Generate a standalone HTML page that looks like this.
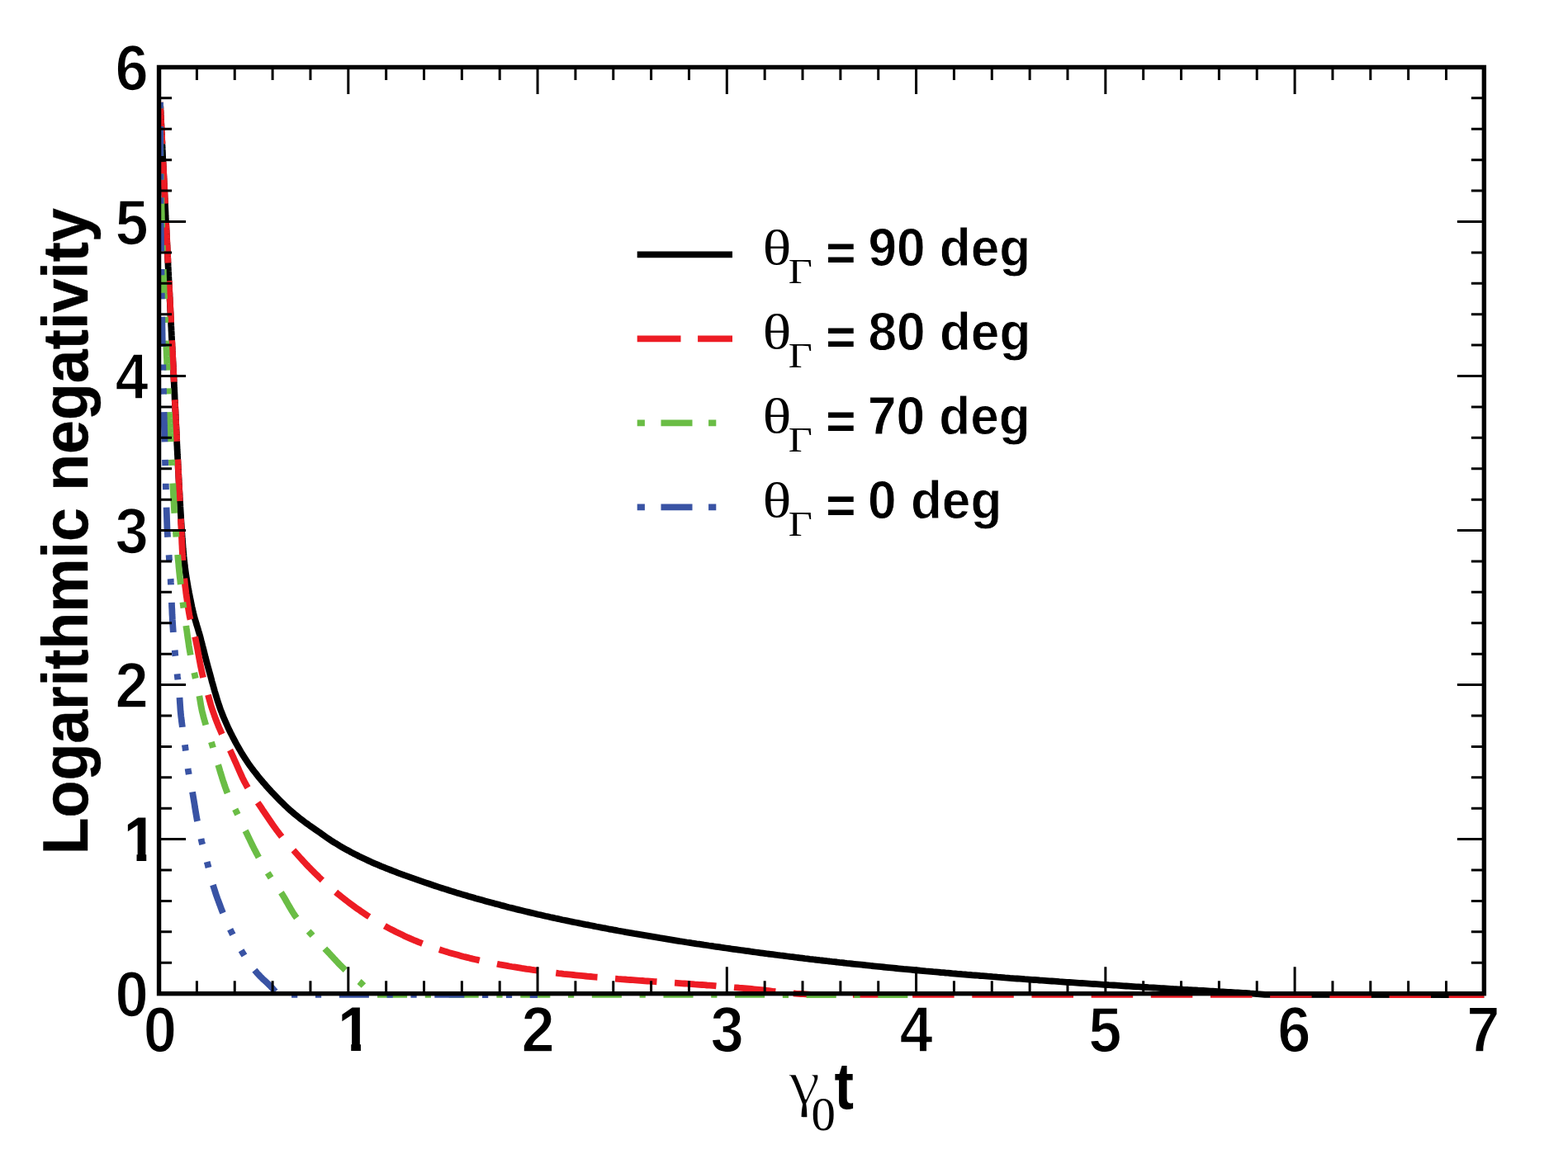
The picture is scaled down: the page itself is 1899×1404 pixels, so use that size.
<!DOCTYPE html>
<html lang="en"><head><meta charset="utf-8"><title>Logarithmic negativity</title>
<style>html,body{margin:0;padding:0;background:#fff;overflow:hidden}svg{display:block}text{font-family:"Liberation Sans",sans-serif;font-weight:bold;fill:#000}.sym{font-family:"Liberation Serif",serif;font-weight:normal}</style></head><body>
<svg width="1899" height="1404" viewBox="0 0 1899 1404">
<rect width="1899" height="1404" fill="#fff"/>
<g>
<g id="curves">
<path d="M194.0,124.0 L194.1,127.0 L194.3,130.0 L194.4,133.0 L194.6,136.0 L194.7,139.0 L194.9,142.0 L195.0,145.0 L195.1,148.0 L195.3,151.0 L195.4,154.0 L195.6,157.0 L195.7,160.0 L195.9,163.0 L196.0,166.0 L196.1,169.0 L196.3,172.0 L196.4,175.0 L196.6,178.0 L196.7,181.0 L196.9,184.1 L197.0,187.1 L197.1,190.1 L197.3,193.1 L197.4,196.1 L197.6,199.1 L197.7,202.1 L197.9,205.1 L198.0,208.1 L198.2,211.1 L198.3,214.1 L198.5,217.1 L198.6,220.1 L198.7,223.1 L198.9,226.1 L199.0,229.1 L199.2,232.1 L199.3,235.1 L199.5,238.1 L199.6,241.1 L199.8,244.1 L199.9,247.1 L200.1,250.1 L200.2,253.1 L200.4,256.1 L200.5,259.1 L200.6,262.1 L200.8,265.1 L200.9,268.1 L201.1,271.1 L201.2,274.1 L201.4,277.1 L201.5,280.1 L201.7,283.1 L201.8,286.1 L202.0,289.1 L202.1,292.1 L202.3,295.1 L202.4,298.1 L202.6,301.1 L202.7,304.1 L202.9,307.1 L203.0,310.1 L203.2,313.2 L203.3,316.2 L203.5,319.2 L203.6,322.2 L203.8,325.2 L203.9,328.2 L204.1,331.2 L204.2,334.2 L204.4,337.2 L204.5,340.2 L204.7,343.2 L204.8,346.2 L205.0,349.2 L205.1,352.2 L205.3,355.2 L205.4,358.2 L205.6,361.2 L205.7,364.2 L205.9,367.2 L206.0,370.2 L206.2,373.2 L206.3,376.2 L206.5,379.2 L206.6,382.2 L206.8,385.2 L206.9,388.2 L207.1,391.2 L207.2,394.2 L207.4,397.2 L207.5,400.2 L207.7,403.2 L207.8,406.2 L208.0,409.2 L208.1,412.2 L208.3,415.2 L208.4,418.2 L208.6,421.2 L208.7,424.2 L208.9,427.2 L209.0,430.2 L209.2,433.2 L209.3,436.2 L209.5,439.2 L209.7,442.2 L209.8,445.2 L210.0,448.2 L210.1,451.2 L210.3,454.2 L210.4,457.3 L210.6,460.3 L210.7,463.3 L210.9,466.3 L211.0,469.3 L211.2,472.3 L211.3,475.3 L211.5,478.3 L211.6,481.3 L211.7,484.3 L211.9,487.3 L212.0,490.3 L212.2,493.3 L212.3,496.3 L212.5,499.3 L212.6,502.3 L212.8,505.3 L212.9,508.3 L213.0,511.3 L213.2,514.3 L213.3,517.3 L213.5,520.3 L213.6,523.3 L213.8,526.3 L213.9,529.3 L214.1,532.3 L214.2,535.3 L214.3,538.3 L214.5,541.3 L214.6,544.3 L214.8,547.3 L214.9,550.3 L215.1,553.3 L215.2,556.3 L215.4,559.3 L215.5,562.3 L215.7,565.3 L215.8,568.3 L216.0,571.4 L216.2,574.4 L216.3,577.4 L216.5,580.4 L216.6,583.4 L216.8,586.4 L217.0,589.4 L217.1,592.4 L217.3,595.4 L217.5,598.4 L217.6,601.4 L217.8,604.4 L218.0,607.4 L218.2,610.4 L218.3,613.4 L218.5,616.4 L218.7,619.4 L218.9,622.4 L219.1,625.4 L219.2,628.4 L219.4,631.4 L219.6,634.4 L219.8,637.4 L220.0,640.4 L220.2,643.4 L220.4,646.4 L220.6,649.4 L220.8,652.4 L221.1,655.4 L221.3,658.4 L221.5,661.4 L221.7,664.4 L222.0,667.4 L222.3,670.4 L222.5,673.3 L222.8,676.3 L223.1,679.3 L223.5,682.3 L223.8,685.3 L224.2,688.3 L224.6,691.2 L225.0,694.2 L225.4,697.2 L225.9,700.2 L226.4,703.1 L226.9,706.1 L227.4,709.1 L227.9,712.0 L228.5,715.0 L229.0,718.0 L229.6,720.9 L230.2,723.9 L230.8,726.8 L231.4,729.8 L232.0,732.7 L232.6,735.6 L233.3,738.6 L233.9,741.5 L234.6,744.4 L235.4,747.3 L236.2,750.2 L237.1,753.1 L237.9,756.0 L238.8,758.9 L239.7,761.7 L240.5,764.6 L241.4,767.5 L242.2,770.4 L243.0,773.3 L243.7,776.2 L244.5,779.1 L245.2,782.0 L246.0,785.0 L246.7,787.9 L247.5,790.8 L248.2,793.7 L248.9,796.6 L249.7,799.5 L250.4,802.4 L251.2,805.3 L252.0,808.2 L252.8,811.1 L253.6,814.0 L254.4,816.9 L255.2,819.8 L256.0,822.7 L256.7,825.7 L257.6,828.6 L258.4,831.5 L259.2,834.4 L260.0,837.3 L260.9,840.2 L261.7,843.0 L262.6,845.9 L263.5,848.8 L264.4,851.6 L265.4,854.5 L266.3,857.3 L267.3,860.1 L268.4,862.9 L269.5,865.7 L270.6,868.5 L271.8,871.3 L273.0,874.0 L274.2,876.8 L275.4,879.5 L276.7,882.3 L278.0,885.0 L279.3,887.7 L280.7,890.4 L282.0,893.1 L283.4,895.7 L284.8,898.4 L286.2,901.0 L287.7,903.7 L289.2,906.3 L290.7,908.9 L292.2,911.5 L293.8,914.1 L295.4,916.6 L297.0,919.1 L298.7,921.7 L300.3,924.1 L302.0,926.6 L303.8,929.0 L305.6,931.5 L307.4,933.8 L309.3,936.2 L311.1,938.6 L313.0,940.9 L314.9,943.3 L316.9,945.6 L318.8,947.9 L320.8,950.1 L322.7,952.4 L324.7,954.6 L326.8,956.9 L328.8,959.1 L330.9,961.3 L333.0,963.4 L335.0,965.6 L337.1,967.7 L339.3,969.9 L341.4,972.0 L343.5,974.1 L345.7,976.2 L347.9,978.3 L350.1,980.3 L352.3,982.3 L354.6,984.2 L356.9,986.2 L359.2,988.1 L361.6,990.0 L363.9,991.9 L366.3,993.7 L368.7,995.5 L371.1,997.3 L373.6,999.0 L376.0,1000.8 L378.5,1002.5 L381.0,1004.2 L383.5,1005.9 L385.9,1007.6 L388.4,1009.3 L390.8,1011.1 L393.3,1012.9 L395.7,1014.6 L398.2,1016.3 L400.7,1018.0 L403.2,1019.6 L405.8,1021.2 L408.4,1022.7 L410.9,1024.3 L413.5,1025.8 L416.1,1027.3 L418.8,1028.8 L421.4,1030.2 L424.0,1031.7 L426.7,1033.1 L429.3,1034.5 L432.0,1035.8 L434.7,1037.2 L437.4,1038.5 L440.1,1039.8 L442.8,1041.1 L445.6,1042.4 L448.3,1043.6 L451.0,1044.9 L453.8,1046.1 L456.5,1047.2 L459.3,1048.4 L462.1,1049.6 L464.9,1050.7 L467.7,1051.8 L470.5,1052.9 L473.3,1054.0 L476.1,1055.1 L478.9,1056.2 L481.7,1057.3 L484.5,1058.3 L487.3,1059.3 L490.1,1060.4 L493.0,1061.4 L495.8,1062.4 L498.6,1063.4 L501.5,1064.4 L504.3,1065.4 L507.1,1066.4 L510.0,1067.4 L512.8,1068.4 L515.7,1069.4 L518.5,1070.3 L521.4,1071.3 L524.2,1072.2 L527.1,1073.2 L529.9,1074.1 L532.8,1075.1 L535.6,1076.0 L538.5,1076.9 L541.4,1077.8 L544.2,1078.7 L547.1,1079.6 L550.0,1080.5 L552.8,1081.4 L555.7,1082.2 L558.6,1083.1 L561.5,1084.0 L564.4,1084.8 L567.3,1085.7 L570.1,1086.5 L573.0,1087.3 L575.9,1088.2 L578.8,1089.0 L581.7,1089.8 L584.6,1090.6 L587.5,1091.4 L590.4,1092.2 L593.3,1093.0 L596.2,1093.8 L599.1,1094.6 L602.0,1095.3 L604.9,1096.1 L607.8,1096.9 L610.7,1097.6 L613.6,1098.4 L616.5,1099.2 L619.5,1099.9 L622.4,1100.6 L625.3,1101.4 L628.2,1102.1 L631.1,1102.8 L634.0,1103.5 L637.0,1104.2 L639.9,1104.9 L642.8,1105.6 L645.7,1106.3 L648.7,1107.0 L651.6,1107.7 L654.5,1108.3 L657.4,1109.0 L660.4,1109.7 L663.3,1110.3 L666.2,1111.0 L669.2,1111.6 L672.1,1112.3 L675.1,1112.9 L678.0,1113.5 L680.9,1114.2 L683.9,1114.8 L686.8,1115.4 L689.8,1116.0 L692.7,1116.6 L695.7,1117.2 L698.6,1117.8 L701.5,1118.4 L704.5,1119.0 L707.4,1119.6 L710.4,1120.2 L713.3,1120.7 L716.3,1121.3 L719.2,1121.9 L722.2,1122.5 L725.1,1123.0 L728.1,1123.6 L731.1,1124.2 L734.0,1124.7 L737.0,1125.3 L739.9,1125.8 L742.9,1126.4 L745.8,1126.9 L748.8,1127.5 L751.7,1128.0 L754.7,1128.5 L757.7,1129.1 L760.6,1129.6 L763.6,1130.1 L766.5,1130.6 L769.5,1131.2 L772.5,1131.7 L775.4,1132.2 L778.4,1132.7 L781.3,1133.2 L784.3,1133.7 L787.3,1134.2 L790.2,1134.7 L793.2,1135.2 L796.2,1135.7 L799.1,1136.2 L802.1,1136.6 L805.1,1137.1 L808.0,1137.6 L811.0,1138.1 L814.0,1138.6 L816.9,1139.1 L819.9,1139.6 L822.9,1140.1 L825.8,1140.5 L828.8,1141.0 L831.8,1141.5 L834.7,1141.9 L837.7,1142.4 L840.7,1142.8 L843.7,1143.3 L846.6,1143.7 L849.6,1144.1 L852.6,1144.6 L855.6,1145.0 L858.5,1145.5 L861.5,1145.9 L864.5,1146.4 L867.4,1146.8 L870.4,1147.2 L873.4,1147.7 L876.4,1148.1 L879.3,1148.5 L882.3,1148.9 L885.3,1149.4 L888.3,1149.8 L891.3,1150.2 L894.2,1150.6 L897.2,1151.0 L900.2,1151.4 L903.2,1151.8 L906.1,1152.2 L909.1,1152.7 L912.1,1153.1 L915.1,1153.5 L918.1,1153.9 L921.0,1154.3 L924.0,1154.7 L927.0,1155.1 L930.0,1155.5 L933.0,1155.8 L935.9,1156.2 L938.9,1156.6 L941.9,1157.0 L944.9,1157.4 L947.9,1157.7 L950.8,1158.1 L953.8,1158.5 L956.8,1158.9 L959.8,1159.2 L962.8,1159.6 L965.8,1160.0 L968.7,1160.3 L971.7,1160.7 L974.7,1161.1 L977.7,1161.4 L980.7,1161.8 L983.7,1162.1 L986.7,1162.5 L989.6,1162.8 L992.6,1163.2 L995.6,1163.5 L998.6,1163.8 L1001.6,1164.2 L1004.6,1164.5 L1007.6,1164.9 L1010.5,1165.2 L1013.5,1165.5 L1016.5,1165.9 L1019.5,1166.2 L1022.5,1166.5 L1025.5,1166.9 L1028.5,1167.2 L1031.5,1167.5 L1034.5,1167.8 L1037.4,1168.1 L1040.4,1168.4 L1043.4,1168.7 L1046.4,1169.0 L1049.4,1169.3 L1052.4,1169.6 L1055.4,1170.0 L1058.4,1170.3 L1061.4,1170.6 L1064.3,1170.9 L1067.3,1171.2 L1070.3,1171.5 L1073.3,1171.8 L1076.3,1172.1 L1079.3,1172.4 L1082.3,1172.7 L1085.3,1173.0 L1088.3,1173.3 L1091.3,1173.6 L1094.3,1173.9 L1097.3,1174.1 L1100.2,1174.4 L1103.2,1174.7 L1106.2,1175.0 L1109.2,1175.3 L1112.2,1175.5 L1115.2,1175.8 L1118.2,1176.1 L1121.2,1176.4 L1124.2,1176.6 L1127.2,1176.9 L1130.2,1177.2 L1133.2,1177.4 L1136.2,1177.7 L1139.2,1178.0 L1142.2,1178.2 L1145.2,1178.5 L1148.1,1178.7 L1151.1,1179.0 L1154.1,1179.3 L1157.1,1179.5 L1160.1,1179.8 L1163.1,1180.0 L1166.1,1180.3 L1169.1,1180.5 L1172.1,1180.8 L1175.1,1181.0 L1178.1,1181.3 L1181.1,1181.5 L1184.1,1181.7 L1187.1,1182.0 L1190.1,1182.2 L1193.1,1182.4 L1196.1,1182.7 L1199.1,1182.9 L1202.1,1183.2 L1205.1,1183.4 L1208.1,1183.7 L1211.1,1183.9 L1214.1,1184.1 L1217.1,1184.4 L1220.1,1184.6 L1223.0,1184.9 L1226.0,1185.1 L1229.0,1185.3 L1232.0,1185.5 L1235.0,1185.7 L1238.0,1185.9 L1241.0,1186.2 L1244.0,1186.4 L1247.0,1186.6 L1250.0,1186.8 L1253.0,1187.0 L1256.0,1187.2 L1259.0,1187.5 L1262.0,1187.7 L1265.0,1187.9 L1268.0,1188.1 L1271.0,1188.3 L1274.0,1188.5 L1277.0,1188.7 L1280.0,1188.9 L1283.0,1189.2 L1286.0,1189.4 L1289.0,1189.6 L1292.0,1189.8 L1295.0,1190.0 L1298.0,1190.2 L1301.0,1190.4 L1304.0,1190.6 L1307.0,1190.8 L1310.0,1191.0 L1313.0,1191.2 L1316.0,1191.4 L1319.0,1191.6 L1322.0,1191.8 L1325.0,1192.0 L1328.0,1192.2 L1331.0,1192.4 L1334.0,1192.6 L1337.0,1192.8 L1340.0,1193.0 L1343.0,1193.2 L1346.0,1193.3 L1349.0,1193.5 L1352.0,1193.7 L1355.0,1193.9 L1358.0,1194.1 L1361.0,1194.3 L1364.0,1194.5 L1367.0,1194.7 L1370.0,1194.9 L1373.0,1195.1 L1376.0,1195.3 L1379.0,1195.4 L1382.0,1195.6 L1385.0,1195.8 L1388.0,1196.0 L1391.0,1196.2 L1394.0,1196.3 L1397.0,1196.5 L1400.0,1196.7 L1403.0,1196.9 L1406.0,1197.1 L1409.0,1197.2 L1412.0,1197.4 L1415.0,1197.6 L1418.0,1197.8 L1421.0,1198.0 L1424.0,1198.1 L1427.0,1198.3 L1430.0,1198.5 L1433.0,1198.7 L1436.0,1198.8 L1439.0,1199.0 L1442.0,1199.1 L1445.0,1199.3 L1448.0,1199.5 L1451.0,1199.7 L1454.0,1199.8 L1457.0,1200.0 L1460.0,1200.2 L1463.0,1200.4 L1466.0,1200.6 L1469.0,1200.7 L1472.0,1200.9 L1475.0,1201.1 L1478.0,1201.3 L1481.0,1201.4 L1484.0,1201.6 L1487.0,1201.8 L1490.0,1201.9 L1493.0,1202.1 L1496.0,1202.3 L1499.0,1202.4 L1502.0,1202.6 L1505.0,1202.8 L1508.0,1203.0 L1511.0,1203.2 L1514.0,1203.5 L1517.0,1203.7 L1520.0,1203.9 L1523.0,1204.2 L1526.0,1204.4 L1529.0,1204.6 L1532.0,1204.9 L1797.3,1205.0" fill="none" stroke="#000000" stroke-width="7.80" stroke-linejoin="round"/>
<path d="M194.0,124.0 L194.1,127.0 L194.3,130.0 L194.4,133.0 L194.6,136.0 L194.7,139.0 L194.9,142.0 L195.0,145.0 L195.2,148.0 L195.3,151.0 L195.5,154.0 L195.6,157.0 L195.8,160.0 L195.9,163.0 L196.1,166.0 L196.2,169.0 L196.4,172.1 L196.5,175.1 L196.6,178.1 L196.8,181.1 L196.9,184.1 L197.1,187.1 L197.2,190.1 L197.4,193.1 L197.5,196.1 L197.7,199.1 L197.8,202.1 L198.0,205.1 L198.1,208.1 L198.3,211.1 L198.4,214.1 L198.6,217.1 L198.7,220.1 L198.9,223.1 L199.0,226.1 L199.2,229.1 L199.3,232.1 L199.5,235.1 L199.6,238.1 L199.7,241.1 L199.9,244.1 L200.0,247.1 L200.2,250.1 L200.3,253.1 L200.5,256.1 L200.6,259.1 L200.8,262.1 L200.9,265.1 L201.1,268.2 L201.2,271.2 L201.4,274.2 L201.5,277.2 L201.7,280.2 L201.8,283.2 L202.0,286.2 L202.1,289.2 L202.3,292.2 L202.4,295.2 L202.6,298.2 L202.7,301.2 L202.8,304.2 L203.0,307.2 L203.1,310.2 L203.3,313.2 L203.4,316.2 L203.6,319.2 L203.7,322.2 L203.9,325.2 L204.0,328.2 L204.2,331.2 L204.3,334.2 L204.5,337.2 L204.6,340.2 L204.8,343.2 L204.9,346.2 L205.1,349.2 L205.2,352.2 L205.4,355.2 L205.5,358.2 L205.7,361.2 L205.8,364.3 L206.0,367.3 L206.1,370.3 L206.3,373.3 L206.4,376.3 L206.6,379.3 L206.7,382.3 L206.9,385.3 L207.0,388.3 L207.1,391.3 L207.3,394.3 L207.4,397.3 L207.6,400.3 L207.7,403.3 L207.9,406.3 L208.0,409.3 L208.2,412.3 L208.3,415.3 L208.5,418.3 L208.6,421.3 L208.8,424.3 L208.9,427.3 L209.1,430.3 L209.2,433.3 L209.4,436.3 L209.5,439.3 L209.7,442.3 L209.8,445.3 L210.0,448.3 L210.1,451.3 L210.3,454.3 L210.4,457.3 L210.6,460.3 L210.7,463.4 L210.9,466.4 L211.0,469.4 L211.2,472.4 L211.3,475.4 L211.5,478.4 L211.6,481.4 L211.8,484.4 L211.9,487.4 L212.1,490.4 L212.2,493.4 L212.4,496.4 L212.5,499.4 L212.6,502.4 L212.8,505.4 L212.9,508.4 L213.1,511.4 L213.2,514.4 L213.4,517.4 L213.5,520.4 L213.7,523.4 L213.8,526.4 L214.0,529.4 L214.1,532.4 L214.3,535.4 L214.4,538.4 L214.6,541.4 L214.7,544.4 L214.9,547.4 L215.0,550.4 L215.2,553.4 L215.3,556.4 L215.5,559.5 L215.6,562.5 L215.8,565.5 L215.9,568.5 L216.1,571.5 L216.2,574.5 L216.4,577.5 L216.5,580.5 L216.7,583.5 L216.8,586.5 L217.0,589.5 L217.1,592.5 L217.3,595.5 L217.4,598.5 L217.6,601.5 L217.7,604.5 L217.9,607.5 L218.0,610.5 L218.2,613.5 L218.3,616.5 L218.5,619.5 L218.6,622.5 L218.8,625.5 L218.9,628.5 L219.1,631.5 L219.2,634.5 L219.4,637.5 L219.5,640.5 L219.7,643.5 L219.8,646.5 L219.9,649.5 L220.1,652.6 L220.2,655.6 L220.3,658.6 L220.5,661.6 L220.6,664.6 L220.8,667.6 L220.9,670.6 L221.1,673.6 L221.3,676.6 L221.5,679.6 L221.7,682.6 L221.9,685.6 L222.1,688.6 L222.4,691.6 L222.7,694.6 L223.0,697.6 L223.3,700.6 L223.6,703.6 L223.9,706.6 L224.2,709.6 L224.6,712.5 L225.0,715.5 L225.3,718.5 L225.7,721.5 L226.2,724.5 L226.6,727.5 L227.0,730.4 L227.5,733.4 L227.9,736.4 L228.4,739.3 L228.9,742.3 L229.4,745.2 L230.0,748.2 L230.7,751.1 L231.5,754.0 L232.3,756.9 L233.1,759.8 L233.9,762.7 L234.7,765.6 L235.5,768.5 L236.2,771.5 L236.8,774.4 L237.4,777.3 L238.0,780.3 L238.6,783.2 L239.2,786.2 L239.7,789.1 L240.2,792.1 L240.8,795.1 L241.3,798.0 L241.9,801.0 L242.4,803.9 L243.0,806.9 L243.6,809.8 L244.2,812.8 L244.8,815.7 L245.5,818.6 L246.2,821.6 L247.0,824.5 L247.8,827.4 L248.6,830.3 L249.5,833.1 L250.3,836.0 L251.2,838.9 L252.0,841.8 L252.8,844.7 L253.6,847.6 L254.4,850.5 L255.2,853.4 L256.1,856.3 L257.0,859.1 L258.0,862.0 L259.0,864.8 L260.0,867.6 L261.0,870.5 L262.1,873.3 L263.2,876.1 L264.3,878.9 L265.5,881.7 L266.7,884.4 L267.9,887.2 L269.1,889.9 L270.3,892.6 L271.7,895.3 L273.0,898.0 L274.4,900.7 L275.8,903.4 L277.2,906.0 L278.6,908.7 L279.9,911.4 L281.1,914.2 L282.4,916.9 L283.6,919.7 L284.8,922.4 L286.1,925.2 L287.3,928.0 L288.5,930.7 L289.7,933.5 L290.9,936.2 L292.2,939.0 L293.4,941.7 L294.7,944.4 L296.1,947.1 L297.5,949.7 L298.9,952.3 L300.4,954.9 L301.9,957.5 L303.6,960.0 L305.3,962.5 L307.0,965.0 L308.7,967.4 L310.5,969.9 L312.2,972.4 L313.9,974.8 L315.6,977.3 L317.3,979.8 L318.9,982.3 L320.6,984.8 L322.3,987.3 L324.0,989.8 L325.7,992.3 L327.4,994.8 L329.1,997.3 L330.8,999.7 L332.6,1002.2 L334.3,1004.6 L336.1,1007.0 L337.9,1009.4 L339.8,1011.8 L341.6,1014.1 L343.5,1016.5 L345.5,1018.7 L347.5,1021.0 L349.5,1023.2 L351.5,1025.5 L353.5,1027.8 L355.5,1030.0 L357.5,1032.3 L359.5,1034.5 L361.5,1036.8 L363.5,1039.0 L365.5,1041.2 L367.5,1043.4 L369.6,1045.6 L371.6,1047.8 L373.7,1050.0 L375.8,1052.1 L377.9,1054.3 L380.1,1056.4 L382.2,1058.5 L384.4,1060.6 L386.5,1062.7 L388.7,1064.8 L390.9,1066.8 L393.1,1068.9 L395.4,1070.9 L397.6,1072.9 L399.8,1074.9 L402.1,1076.8 L404.4,1078.8 L406.7,1080.7 L409.0,1082.7 L411.3,1084.6 L413.7,1086.5 L416.0,1088.3 L418.4,1090.2 L420.8,1092.0 L423.2,1093.8 L425.6,1095.6 L428.0,1097.4 L430.4,1099.2 L432.9,1100.9 L435.4,1102.6 L437.8,1104.4 L440.3,1106.0 L442.8,1107.7 L445.4,1109.4 L447.9,1111.0 L450.4,1112.6 L453.0,1114.1 L455.6,1115.7 L458.2,1117.2 L460.8,1118.7 L463.4,1120.2 L466.0,1121.7 L468.6,1123.1 L471.3,1124.6 L474.0,1126.0 L476.6,1127.3 L479.3,1128.7 L482.0,1130.0 L484.7,1131.3 L487.4,1132.6 L490.1,1133.9 L492.9,1135.2 L495.6,1136.4 L498.4,1137.6 L501.1,1138.8 L503.9,1139.9 L506.7,1141.1 L509.5,1142.2 L512.3,1143.3 L515.1,1144.3 L517.9,1145.4 L520.8,1146.4 L523.6,1147.4 L526.4,1148.4 L529.3,1149.4 L532.1,1150.3 L535.0,1151.2 L537.9,1152.1 L540.8,1153.0 L543.6,1153.9 L546.5,1154.7 L549.4,1155.5 L552.3,1156.3 L555.2,1157.1 L558.1,1157.9 L561.0,1158.7 L563.9,1159.4 L566.9,1160.1 L569.8,1160.9 L572.7,1161.6 L575.6,1162.2 L578.6,1162.9 L581.5,1163.6 L584.4,1164.2 L587.4,1164.8 L590.3,1165.5 L593.3,1166.1 L596.2,1166.7 L599.2,1167.2 L602.1,1167.8 L605.1,1168.4 L608.0,1168.9 L611.0,1169.4 L613.9,1169.9 L616.9,1170.5 L619.9,1171.0 L622.8,1171.4 L625.8,1171.9 L628.8,1172.4 L631.7,1172.9 L634.7,1173.3 L637.7,1173.8 L640.7,1174.2 L643.6,1174.7 L646.6,1175.1 L649.6,1175.5 L652.6,1176.0 L655.5,1176.4 L658.5,1176.8 L661.5,1177.2 L664.5,1177.6 L667.5,1178.0 L670.4,1178.3 L673.4,1178.7 L676.4,1179.1 L679.4,1179.4 L682.4,1179.8 L685.4,1180.1 L688.4,1180.4 L691.4,1180.7 L694.4,1181.0 L697.3,1181.3 L700.3,1181.6 L703.3,1181.9 L706.3,1182.2 L709.3,1182.5 L712.3,1182.8 L715.3,1183.0 L718.3,1183.3 L721.3,1183.6 L724.3,1183.8 L727.3,1184.1 L730.3,1184.4 L733.3,1184.6 L736.3,1184.9 L739.3,1185.1 L742.3,1185.4 L745.3,1185.6 L748.3,1185.9 L751.3,1186.1 L754.3,1186.3 L757.3,1186.5 L760.3,1186.8 L763.3,1187.0 L766.3,1187.2 L769.2,1187.4 L772.2,1187.6 L775.2,1187.8 L778.2,1188.0 L781.2,1188.3 L784.2,1188.5 L787.2,1188.7 L790.2,1188.9 L793.2,1189.1 L796.2,1189.3 L799.2,1189.5 L802.2,1189.7 L805.2,1189.9 L808.2,1190.1 L811.2,1190.3 L814.2,1190.5 L817.2,1190.7 L820.2,1190.9 L823.2,1191.1 L826.2,1191.3 L829.2,1191.5 L832.2,1191.7 L835.2,1191.9 L838.2,1192.1 L841.2,1192.4 L844.2,1192.6 L847.2,1192.8 L850.2,1193.0 L853.2,1193.2 L856.2,1193.5 L859.2,1193.7 L862.2,1193.9 L865.2,1194.1 L868.2,1194.4 L871.2,1194.6 L874.2,1194.8 L877.2,1195.1 L880.2,1195.3 L883.2,1195.6 L886.2,1195.8 L889.2,1196.1 L892.2,1196.3 L895.2,1196.6 L898.2,1196.8 L901.2,1197.1 L904.2,1197.4 L907.2,1197.7 L910.2,1198.0 L913.2,1198.3 L916.2,1198.6 L919.1,1198.9 L922.1,1199.2 L925.1,1199.5 L928.1,1199.8 L931.1,1200.2 L934.1,1200.6 L937.1,1201.0 L940.0,1201.3 L943.0,1201.7 L946.0,1202.0 L949.0,1202.3 L952.0,1202.6 L955.0,1202.8 L958.0,1203.1 L961.0,1203.3 L964.0,1203.6 L967.0,1203.8 L970.0,1204.0 L973.0,1204.2 L976.0,1204.4 L979.0,1204.6 L982.0,1204.8 L985.0,1204.9 L1797.3,1205.0" fill="none" stroke="#ed1c24" stroke-width="7.80" stroke-linejoin="round" stroke-dasharray="50.52,21.65" stroke-dashoffset="0.0"/>
<path d="M194.0,124.0 L194.0,127.0 L194.0,130.0 L194.0,133.0 L194.0,136.1 L194.0,139.1 L194.0,142.1 L194.0,145.1 L194.1,148.1 L194.1,151.1 L194.1,154.2 L194.1,157.2 L194.1,160.2 L194.2,163.2 L194.2,166.2 L194.2,169.2 L194.2,172.2 L194.3,175.3 L194.3,178.3 L194.3,181.3 L194.4,184.3 L194.4,187.3 L194.4,190.3 L194.5,193.3 L194.5,196.4 L194.6,199.4 L194.6,202.4 L194.7,205.4 L194.7,208.4 L194.8,211.4 L194.8,214.4 L194.9,217.5 L194.9,220.5 L195.0,223.5 L195.0,226.5 L195.1,229.5 L195.1,232.5 L195.2,235.5 L195.3,238.5 L195.3,241.6 L195.4,244.6 L195.5,247.6 L195.5,250.6 L195.6,253.6 L195.7,256.6 L195.8,259.6 L195.8,262.6 L195.9,265.7 L196.0,268.7 L196.1,271.7 L196.1,274.7 L196.2,277.7 L196.3,280.7 L196.4,283.7 L196.5,286.7 L196.6,289.7 L196.6,292.8 L196.7,295.8 L196.8,298.8 L196.9,301.8 L197.0,304.8 L197.1,307.8 L197.2,310.8 L197.3,313.8 L197.4,316.8 L197.5,319.9 L197.6,322.9 L197.7,325.9 L197.8,328.9 L197.9,331.9 L198.0,334.9 L198.1,337.9 L198.2,340.9 L198.3,343.9 L198.4,347.0 L198.5,350.0 L198.6,353.0 L198.7,356.0 L198.9,359.0 L199.0,362.0 L199.1,365.0 L199.2,368.0 L199.3,371.0 L199.4,374.0 L199.6,377.1 L199.7,380.1 L199.8,383.1 L199.9,386.1 L200.0,389.1 L200.2,392.1 L200.3,395.1 L200.4,398.1 L200.5,401.1 L200.7,404.1 L200.8,407.1 L200.9,410.2 L201.0,413.2 L201.2,416.2 L201.3,419.2 L201.4,422.2 L201.6,425.2 L201.7,428.2 L201.8,431.2 L202.0,434.2 L202.1,437.2 L202.2,440.2 L202.4,443.2 L202.5,446.3 L202.6,449.3 L202.8,452.3 L202.9,455.3 L203.0,458.3 L203.2,461.3 L203.3,464.3 L203.5,467.3 L203.6,470.3 L203.7,473.3 L203.9,476.3 L204.0,479.3 L204.2,482.4 L204.3,485.4 L204.5,488.4 L204.6,491.4 L204.7,494.4 L204.9,497.4 L205.0,500.4 L205.2,503.4 L205.3,506.4 L205.5,509.4 L205.6,512.4 L205.8,515.4 L205.9,518.4 L206.1,521.4 L206.2,524.5 L206.4,527.5 L206.5,530.5 L206.7,533.5 L206.8,536.5 L207.0,539.5 L207.1,542.5 L207.3,545.5 L207.4,548.5 L207.6,551.5 L207.7,554.5 L207.9,557.5 L208.0,560.5 L208.2,563.5 L208.3,566.5 L208.5,569.6 L208.6,572.6 L208.8,575.6 L208.9,578.6 L209.1,581.6 L209.2,584.6 L209.4,587.6 L209.5,590.6 L209.7,593.6 L209.9,596.6 L210.0,599.6 L210.2,602.6 L210.3,605.6 L210.5,608.6 L210.7,611.6 L210.8,614.6 L211.0,617.7 L211.2,620.7 L211.4,623.7 L211.6,626.7 L211.8,629.7 L212.0,632.7 L212.3,635.7 L212.5,638.7 L212.7,641.7 L212.9,644.7 L213.2,647.7 L213.4,650.7 L213.6,653.7 L213.9,656.7 L214.1,659.7 L214.4,662.7 L214.6,665.7 L214.9,668.7 L215.2,671.7 L215.4,674.7 L215.7,677.7 L216.0,680.7 L216.3,683.7 L216.5,686.7 L216.8,689.7 L217.1,692.7 L217.4,695.7 L217.7,698.7 L218.1,701.7 L218.4,704.7 L218.7,707.7 L219.1,710.7 L219.5,713.7 L219.8,716.7 L220.2,719.6 L220.6,722.6 L221.0,725.6 L221.3,728.6 L221.7,731.6 L222.1,734.6 L222.5,737.6 L222.9,740.6 L223.3,743.5 L223.7,746.5 L224.1,749.5 L224.6,752.5 L225.0,755.5 L225.4,758.5 L225.8,761.4 L226.3,764.4 L226.7,767.4 L227.1,770.4 L227.5,773.4 L228.0,776.4 L228.4,779.3 L228.8,782.3 L229.3,785.3 L229.8,788.3 L230.3,791.2 L230.8,794.2 L231.4,797.1 L232.0,800.1 L232.6,803.0 L233.2,806.0 L233.9,808.9 L234.6,811.9 L235.2,814.8 L235.9,817.7 L236.5,820.7 L237.2,823.6 L237.9,826.6 L238.5,829.5 L239.2,832.4 L239.8,835.4 L240.4,838.3 L241.0,841.3 L241.6,844.2 L242.1,847.2 L242.6,850.2 L243.1,853.2 L243.6,856.1 L244.2,859.1 L244.8,862.0 L245.6,864.9 L246.3,867.9 L247.1,870.8 L247.9,873.7 L248.8,876.6 L249.6,879.5 L250.5,882.3 L251.4,885.2 L252.3,888.1 L253.3,890.9 L254.2,893.8 L255.2,896.6 L256.1,899.5 L257.0,902.4 L257.9,905.3 L258.7,908.2 L259.6,911.0 L260.4,913.9 L261.3,916.8 L262.1,919.7 L263.0,922.6 L263.9,925.5 L264.8,928.4 L265.7,931.2 L266.5,934.1 L267.4,937.0 L268.3,939.9 L269.2,942.8 L270.1,945.7 L271.1,948.5 L272.0,951.4 L273.0,954.2 L274.0,957.0 L275.1,959.8 L276.2,962.6 L277.5,965.4 L278.7,968.1 L280.0,970.8 L281.4,973.5 L282.7,976.2 L284.1,978.9 L285.4,981.6 L286.7,984.3 L288.0,987.0 L289.3,989.8 L290.6,992.5 L291.9,995.2 L293.2,997.9 L294.4,1000.7 L295.7,1003.4 L297.0,1006.1 L298.4,1008.8 L299.7,1011.5 L301.0,1014.2 L302.3,1016.9 L303.6,1019.7 L304.9,1022.4 L306.3,1025.1 L307.6,1027.8 L309.0,1030.4 L310.4,1033.1 L311.8,1035.8 L313.2,1038.4 L314.7,1041.1 L316.1,1043.7 L317.6,1046.3 L319.1,1048.9 L320.7,1051.5 L322.2,1054.1 L323.8,1056.7 L325.4,1059.2 L327.0,1061.8 L328.7,1064.3 L330.4,1066.8 L332.1,1069.2 L333.8,1071.7 L335.6,1074.2 L337.3,1076.6 L339.0,1079.1 L340.7,1081.6 L342.3,1084.1 L343.9,1086.7 L345.4,1089.3 L346.9,1092.0 L348.4,1094.6 L349.9,1097.2 L351.4,1099.8 L352.9,1102.4 L354.5,1105.0 L356.1,1107.5 L357.8,1110.0 L359.6,1112.4 L361.4,1114.7 L363.4,1117.0 L365.4,1119.3 L367.4,1121.5 L369.5,1123.7 L371.6,1125.9 L373.7,1128.1 L375.7,1130.3 L377.8,1132.5 L379.8,1134.7 L381.8,1136.9 L383.9,1139.1 L386.0,1141.3 L388.0,1143.5 L390.1,1145.7 L392.2,1147.9 L394.2,1150.1 L396.3,1152.3 L398.4,1154.5 L400.4,1156.7 L402.5,1158.9 L404.5,1161.1 L406.6,1163.3 L408.6,1165.5 L410.7,1167.7 L412.8,1169.9 L415.0,1172.0 L417.1,1174.1 L419.3,1176.1 L421.6,1178.1 L423.9,1180.0 L426.2,1181.9 L428.6,1183.8 L431.0,1185.7 L433.3,1187.6 L435.6,1189.5 L437.8,1191.5 L440.0,1193.6 L442.1,1195.8 L444.1,1198.0 L446.1,1200.3 L448.1,1202.6 L450.0,1204.9 L1106.0,1205.0" fill="none" stroke="#6abd45" stroke-width="7.80" stroke-linejoin="round" stroke-dasharray="36.09,21.65,7.22,21.65" stroke-dashoffset="57.7"/>
<path d="M194.0,124.0 L194.0,127.0 L194.0,130.0 L194.0,133.1 L194.0,136.1 L194.0,139.1 L194.0,142.1 L194.0,145.1 L194.0,148.1 L194.0,151.2 L194.0,154.2 L194.0,157.2 L194.0,160.2 L194.1,163.2 L194.1,166.2 L194.1,169.2 L194.1,172.3 L194.1,175.3 L194.1,178.3 L194.1,181.3 L194.1,184.3 L194.1,187.3 L194.1,190.4 L194.2,193.4 L194.2,196.4 L194.2,199.4 L194.2,202.4 L194.2,205.4 L194.2,208.5 L194.3,211.5 L194.3,214.5 L194.3,217.5 L194.3,220.5 L194.3,223.5 L194.4,226.5 L194.4,229.6 L194.4,232.6 L194.4,235.6 L194.4,238.6 L194.5,241.6 L194.5,244.6 L194.5,247.6 L194.5,250.7 L194.6,253.7 L194.6,256.7 L194.6,259.7 L194.6,262.7 L194.7,265.7 L194.7,268.7 L194.7,271.8 L194.8,274.8 L194.8,277.8 L194.8,280.8 L194.9,283.8 L194.9,286.8 L194.9,289.8 L195.0,292.9 L195.0,295.9 L195.0,298.9 L195.1,301.9 L195.1,304.9 L195.1,307.9 L195.2,310.9 L195.2,313.9 L195.2,317.0 L195.3,320.0 L195.3,323.0 L195.4,326.0 L195.4,329.0 L195.4,332.0 L195.5,335.0 L195.5,338.0 L195.6,341.1 L195.6,344.1 L195.7,347.1 L195.7,350.1 L195.7,353.1 L195.8,356.1 L195.8,359.1 L195.9,362.1 L195.9,365.2 L196.0,368.2 L196.0,371.2 L196.1,374.2 L196.1,377.2 L196.2,380.2 L196.2,383.2 L196.3,386.2 L196.3,389.3 L196.4,392.3 L196.4,395.3 L196.5,398.3 L196.5,401.3 L196.6,404.3 L196.6,407.3 L196.7,410.3 L196.7,413.3 L196.8,416.4 L196.9,419.4 L196.9,422.4 L197.0,425.4 L197.0,428.4 L197.1,431.4 L197.1,434.4 L197.2,437.4 L197.3,440.4 L197.3,443.5 L197.4,446.5 L197.5,449.5 L197.5,452.5 L197.6,455.5 L197.6,458.5 L197.7,461.5 L197.8,464.5 L197.8,467.5 L197.9,470.5 L198.0,473.6 L198.0,476.6 L198.1,479.6 L198.2,482.6 L198.2,485.6 L198.3,488.6 L198.4,491.6 L198.4,494.6 L198.5,497.6 L198.6,500.7 L198.7,503.7 L198.7,506.7 L198.8,509.7 L198.9,512.7 L198.9,515.7 L199.0,518.7 L199.1,521.7 L199.2,524.7 L199.2,527.7 L199.3,530.8 L199.4,533.8 L199.5,536.8 L199.5,539.8 L199.6,542.8 L199.7,545.8 L199.8,548.8 L199.9,551.8 L199.9,554.8 L200.0,557.8 L200.1,560.8 L200.2,563.9 L200.3,566.9 L200.3,569.9 L200.4,572.9 L200.5,575.9 L200.6,578.9 L200.7,581.9 L200.8,584.9 L200.8,587.9 L200.9,590.9 L201.0,593.9 L201.1,597.0 L201.2,600.0 L201.3,603.0 L201.4,606.0 L201.5,609.0 L201.5,612.0 L201.6,615.0 L201.7,618.0 L201.8,621.0 L201.9,624.0 L202.0,627.0 L202.1,630.1 L202.2,633.1 L202.3,636.1 L202.4,639.1 L202.5,642.1 L202.7,645.1 L202.9,648.1 L203.1,651.1 L203.3,654.1 L203.5,657.1 L203.7,660.1 L203.9,663.1 L204.2,666.1 L204.4,669.1 L204.6,672.2 L204.8,675.2 L205.0,678.2 L205.2,681.2 L205.4,684.2 L205.6,687.2 L205.9,690.2 L206.1,693.2 L206.3,696.2 L206.5,699.2 L206.7,702.2 L206.8,705.2 L207.0,708.2 L207.1,711.2 L207.3,714.2 L207.4,717.2 L207.5,720.3 L207.6,723.3 L207.8,726.3 L207.9,729.3 L208.0,732.3 L208.1,735.3 L208.3,738.3 L208.4,741.3 L208.5,744.3 L208.7,747.3 L208.8,750.4 L209.0,753.4 L209.2,756.4 L209.4,759.4 L209.6,762.4 L209.8,765.4 L210.0,768.4 L210.2,771.4 L210.5,774.4 L210.8,777.4 L211.0,780.4 L211.3,783.4 L211.6,786.4 L211.9,789.4 L212.1,792.4 L212.4,795.4 L212.7,798.4 L213.0,801.4 L213.4,804.4 L213.7,807.4 L214.0,810.4 L214.3,813.4 L214.6,816.4 L214.9,819.4 L215.3,822.4 L215.6,825.4 L215.9,828.4 L216.2,831.4 L216.5,834.3 L216.8,837.3 L217.1,840.3 L217.4,843.3 L217.6,846.3 L217.8,849.4 L218.0,852.4 L218.2,855.4 L218.4,858.4 L218.6,861.4 L218.9,864.4 L219.2,867.4 L219.6,870.4 L219.9,873.4 L220.3,876.3 L220.7,879.3 L221.0,882.3 L221.4,885.3 L221.9,888.3 L222.3,891.3 L222.7,894.3 L223.2,897.2 L223.6,900.2 L224.0,903.2 L224.5,906.2 L224.8,909.2 L225.2,912.2 L225.6,915.2 L226.0,918.1 L226.3,921.1 L226.7,924.1 L227.1,927.1 L227.5,930.1 L227.9,933.1 L228.4,936.0 L228.9,939.0 L229.5,942.0 L230.1,944.9 L230.7,947.9 L231.4,950.8 L232.0,953.8 L232.6,956.7 L233.1,959.7 L233.6,962.7 L234.1,965.6 L234.6,968.6 L235.1,971.6 L235.6,974.6 L236.0,977.5 L236.5,980.5 L237.0,983.5 L237.5,986.5 L238.0,989.4 L238.5,992.4 L239.1,995.3 L239.6,998.3 L240.2,1001.3 L240.8,1004.2 L241.5,1007.2 L242.1,1010.1 L242.8,1013.0 L243.5,1016.0 L244.1,1018.9 L244.8,1021.8 L245.6,1024.8 L246.3,1027.7 L247.1,1030.6 L247.9,1033.5 L248.7,1036.4 L249.4,1039.3 L250.2,1042.2 L251.0,1045.1 L251.8,1048.0 L252.5,1051.0 L253.3,1053.9 L254.0,1056.8 L254.7,1059.7 L255.5,1062.7 L256.2,1065.6 L257.0,1068.5 L257.8,1071.4 L258.7,1074.3 L259.6,1077.1 L260.5,1080.0 L261.4,1082.9 L262.4,1085.7 L263.4,1088.6 L264.5,1091.4 L265.5,1094.2 L266.6,1097.0 L267.6,1099.9 L268.7,1102.7 L269.8,1105.5 L271.0,1108.3 L272.1,1111.0 L273.3,1113.8 L274.5,1116.6 L275.7,1119.3 L277.0,1122.1 L278.2,1124.8 L279.5,1127.5 L280.9,1130.2 L282.2,1132.9 L283.6,1135.6 L284.9,1138.3 L286.4,1141.0 L287.8,1143.6 L289.3,1146.3 L290.7,1148.9 L292.3,1151.5 L293.8,1154.1 L295.4,1156.6 L297.0,1159.2 L298.7,1161.7 L300.3,1164.2 L302.0,1166.7 L303.8,1169.2 L305.6,1171.6 L307.4,1174.0 L309.3,1176.3 L311.2,1178.6 L313.3,1180.8 L315.4,1183.0 L317.5,1185.1 L319.7,1187.2 L321.9,1189.2 L324.2,1191.3 L326.3,1193.4 L328.4,1195.6 L330.5,1197.8 L332.5,1200.0 L334.3,1202.4 L336.0,1204.9 L651.0,1205.0" fill="none" stroke="#3953a4" stroke-width="7.80" stroke-linejoin="round" stroke-dasharray="36.09,21.65,7.22,21.65,7.22,21.65" stroke-dashoffset="86.6"/>
</g>
<g id="axes" fill="none">
<rect x="192.55" y="81.45" width="1604.80" height="1122.20" stroke="#000" stroke-width="5.40"/>
<path d="M238.40,1203.65 v-15.50 M238.40,81.45 v15.50 M284.25,1203.65 v-15.50 M284.25,81.45 v15.50 M330.10,1203.65 v-15.50 M330.10,81.45 v15.50 M375.96,1203.65 v-15.50 M375.96,81.45 v15.50 M421.81,1203.65 v-32.50 M421.81,81.45 v32.50 M467.66,1203.65 v-15.50 M467.66,81.45 v15.50 M513.51,1203.65 v-15.50 M513.51,81.45 v15.50 M559.36,1203.65 v-15.50 M559.36,81.45 v15.50 M605.21,1203.65 v-15.50 M605.21,81.45 v15.50 M651.06,1203.65 v-32.50 M651.06,81.45 v32.50 M696.92,1203.65 v-15.50 M696.92,81.45 v15.50 M742.77,1203.65 v-15.50 M742.77,81.45 v15.50 M788.62,1203.65 v-15.50 M788.62,81.45 v15.50 M834.47,1203.65 v-15.50 M834.47,81.45 v15.50 M880.32,1203.65 v-32.50 M880.32,81.45 v32.50 M926.17,1203.65 v-15.50 M926.17,81.45 v15.50 M972.02,1203.65 v-15.50 M972.02,81.45 v15.50 M1017.88,1203.65 v-15.50 M1017.88,81.45 v15.50 M1063.73,1203.65 v-15.50 M1063.73,81.45 v15.50 M1109.58,1203.65 v-32.50 M1109.58,81.45 v32.50 M1155.43,1203.65 v-15.50 M1155.43,81.45 v15.50 M1201.28,1203.65 v-15.50 M1201.28,81.45 v15.50 M1247.13,1203.65 v-15.50 M1247.13,81.45 v15.50 M1292.98,1203.65 v-15.50 M1292.98,81.45 v15.50 M1338.84,1203.65 v-32.50 M1338.84,81.45 v32.50 M1384.69,1203.65 v-15.50 M1384.69,81.45 v15.50 M1430.54,1203.65 v-15.50 M1430.54,81.45 v15.50 M1476.39,1203.65 v-15.50 M1476.39,81.45 v15.50 M1522.24,1203.65 v-15.50 M1522.24,81.45 v15.50 M1568.09,1203.65 v-32.50 M1568.09,81.45 v32.50 M1613.94,1203.65 v-15.50 M1613.94,81.45 v15.50 M1659.80,1203.65 v-15.50 M1659.80,81.45 v15.50 M1705.65,1203.65 v-15.50 M1705.65,81.45 v15.50 M1751.50,1203.65 v-15.50 M1751.50,81.45 v15.50 M192.55,1166.24 h15.50 M1797.35,1166.24 h-15.50 M192.55,1128.84 h15.50 M1797.35,1128.84 h-15.50 M192.55,1091.43 h15.50 M1797.35,1091.43 h-15.50 M192.55,1054.02 h15.50 M1797.35,1054.02 h-15.50 M192.55,1016.62 h32.50 M1797.35,1016.62 h-32.50 M192.55,979.21 h15.50 M1797.35,979.21 h-15.50 M192.55,941.80 h15.50 M1797.35,941.80 h-15.50 M192.55,904.40 h15.50 M1797.35,904.40 h-15.50 M192.55,866.99 h15.50 M1797.35,866.99 h-15.50 M192.55,829.58 h32.50 M1797.35,829.58 h-32.50 M192.55,792.18 h15.50 M1797.35,792.18 h-15.50 M192.55,754.77 h15.50 M1797.35,754.77 h-15.50 M192.55,717.36 h15.50 M1797.35,717.36 h-15.50 M192.55,679.96 h15.50 M1797.35,679.96 h-15.50 M192.55,642.55 h32.50 M1797.35,642.55 h-32.50 M192.55,605.14 h15.50 M1797.35,605.14 h-15.50 M192.55,567.74 h15.50 M1797.35,567.74 h-15.50 M192.55,530.33 h15.50 M1797.35,530.33 h-15.50 M192.55,492.92 h15.50 M1797.35,492.92 h-15.50 M192.55,455.52 h32.50 M1797.35,455.52 h-32.50 M192.55,418.11 h15.50 M1797.35,418.11 h-15.50 M192.55,380.70 h15.50 M1797.35,380.70 h-15.50 M192.55,343.30 h15.50 M1797.35,343.30 h-15.50 M192.55,305.89 h15.50 M1797.35,305.89 h-15.50 M192.55,268.48 h32.50 M1797.35,268.48 h-32.50 M192.55,231.08 h15.50 M1797.35,231.08 h-15.50 M192.55,193.67 h15.50 M1797.35,193.67 h-15.50 M192.55,156.26 h15.50 M1797.35,156.26 h-15.50 M192.55,118.86 h15.50 M1797.35,118.86 h-15.50" stroke="#000" stroke-width="3.00"/>
</g>
<clipPath id="one"><path d="M-4,-60.24 H60 V-7.88 H28.94 V4 H16.54 V-7.88 H-4 Z"/></clipPath>
<g id="ticklabels" font-size="77.50">
<text transform="translate(193.90,1274.00) scale(0.9350,1)" text-anchor="middle" stroke="#fff" stroke-width="1.60" stroke-linejoin="round">0</text>
<text transform="translate(409.60,1272.70) scale(0.9450,1)" font-size="75.30" clip-path="url(#one)">1</text>
<text transform="translate(651.73,1274.00) scale(0.9350,1)" text-anchor="middle" stroke="#fff" stroke-width="1.60" stroke-linejoin="round">2</text>
<text transform="translate(880.64,1274.00) scale(0.9350,1)" text-anchor="middle" stroke="#fff" stroke-width="1.60" stroke-linejoin="round">3</text>
<text transform="translate(1109.56,1274.00) scale(0.9350,1)" text-anchor="middle" stroke="#fff" stroke-width="1.60" stroke-linejoin="round">4</text>
<text transform="translate(1338.47,1274.00) scale(0.9350,1)" text-anchor="middle" stroke="#fff" stroke-width="1.60" stroke-linejoin="round">5</text>
<text transform="translate(1567.39,1274.00) scale(0.9350,1)" text-anchor="middle" stroke="#fff" stroke-width="1.60" stroke-linejoin="round">6</text>
<text transform="translate(1796.30,1274.00) scale(0.9350,1)" text-anchor="middle" stroke="#fff" stroke-width="1.60" stroke-linejoin="round">7</text>
<text transform="translate(179.90,1231.25) scale(0.9350,1)" text-anchor="end" stroke="#fff" stroke-width="1.60" stroke-linejoin="round">0</text>
<text transform="translate(149.90,1042.52) scale(0.9450,1)" font-size="75.30" clip-path="url(#one)">1</text>
<text transform="translate(179.90,857.18) scale(0.9350,1)" text-anchor="end" stroke="#fff" stroke-width="1.60" stroke-linejoin="round">2</text>
<text transform="translate(179.90,670.15) scale(0.9350,1)" text-anchor="end" stroke="#fff" stroke-width="1.60" stroke-linejoin="round">3</text>
<text transform="translate(179.90,483.12) scale(0.9350,1)" text-anchor="end" stroke="#fff" stroke-width="1.60" stroke-linejoin="round">4</text>
<text transform="translate(179.90,296.08) scale(0.9350,1)" text-anchor="end" stroke="#fff" stroke-width="1.60" stroke-linejoin="round">5</text>
<text transform="translate(179.90,109.05) scale(0.9350,1)" text-anchor="end" stroke="#fff" stroke-width="1.60" stroke-linejoin="round">6</text>
</g>
<g id="ylabel">
<text transform="translate(105.90,1035.26) rotate(-90) scale(0.9535,1)" font-size="77.00" stroke="#000" stroke-width="0.40" stroke-linejoin="round">Logarithmic negativity</text>
</g>
<text id="xlabel"><tspan x="954.92" y="1337.46" font-size="79.26" textLength="38.29" lengthAdjust="spacingAndGlyphs" class="sym" stroke="#fff" stroke-width="1.6">γ</tspan><tspan x="982.49" y="1368.73" font-size="56.74" textLength="29.41" lengthAdjust="spacingAndGlyphs" class="sym">0</tspan><tspan x="1010.42" y="1342.71" font-size="79.25" textLength="23.50" lengthAdjust="spacingAndGlyphs">t</tspan></text>
<g id="legend">
<path d="M771.7,308.4 H887.0" stroke="#000000" stroke-width="7.80" fill="none"/>
<text><tspan x="923.54" y="320.21" font-size="59.01" textLength="34.89" lengthAdjust="spacingAndGlyphs" class="sym">θ</tspan><tspan x="954.79" y="343.40" font-size="42.14" textLength="29.07" lengthAdjust="spacingAndGlyphs" class="sym">Γ</tspan> <tspan x="1000.60" y="325.93" font-size="59.87" textLength="35.74" lengthAdjust="spacingAndGlyphs">=</tspan> <tspan x="1051.43" y="322.40" font-size="65.60" textLength="196.76" lengthAdjust="spacingAndGlyphs" stroke="#fff" stroke-width="0.90" stroke-linejoin="round">90 deg</tspan></text>
<path d="M771.7,410.4 H887.0" stroke="#ed1c24" stroke-width="7.80" fill="none" stroke-dasharray="52.80,20.60,60.00,200.00" stroke-dashoffset="0.0"/>
<text><tspan x="923.54" y="422.21" font-size="59.01" textLength="34.89" lengthAdjust="spacingAndGlyphs" class="sym">θ</tspan><tspan x="954.79" y="445.40" font-size="42.14" textLength="29.07" lengthAdjust="spacingAndGlyphs" class="sym">Γ</tspan> <tspan x="1000.60" y="427.93" font-size="59.87" textLength="35.74" lengthAdjust="spacingAndGlyphs">=</tspan> <tspan x="1051.58" y="424.40" font-size="65.60" textLength="196.76" lengthAdjust="spacingAndGlyphs" stroke="#fff" stroke-width="0.90" stroke-linejoin="round">80 deg</tspan></text>
<path d="M771.7,512.4 H887.0" stroke="#6abd45" stroke-width="7.80" fill="none" stroke-dasharray="9.20,19.60,38.00,19.60,9.20,200.00" stroke-dashoffset="0.0"/>
<text><tspan x="923.54" y="524.21" font-size="59.01" textLength="34.89" lengthAdjust="spacingAndGlyphs" class="sym">θ</tspan><tspan x="954.79" y="547.40" font-size="42.14" textLength="29.07" lengthAdjust="spacingAndGlyphs" class="sym">Γ</tspan> <tspan x="1000.60" y="529.93" font-size="59.87" textLength="35.74" lengthAdjust="spacingAndGlyphs">=</tspan> <tspan x="1050.96" y="526.40" font-size="65.60" textLength="196.76" lengthAdjust="spacingAndGlyphs" stroke="#fff" stroke-width="0.90" stroke-linejoin="round">70 deg</tspan></text>
<path d="M771.7,614.4 H887.0" stroke="#3953a4" stroke-width="7.80" fill="none" stroke-dasharray="9.20,19.60,38.00,19.60,9.20,200.00" stroke-dashoffset="0.0"/>
<text><tspan x="923.54" y="626.21" font-size="59.01" textLength="34.89" lengthAdjust="spacingAndGlyphs" class="sym">θ</tspan><tspan x="954.79" y="649.40" font-size="42.14" textLength="29.07" lengthAdjust="spacingAndGlyphs" class="sym">Γ</tspan> <tspan x="1000.60" y="631.93" font-size="59.87" textLength="35.74" lengthAdjust="spacingAndGlyphs">=</tspan> <tspan x="1051.12" y="628.40" font-size="65.60" textLength="162.22" lengthAdjust="spacingAndGlyphs" stroke="#fff" stroke-width="0.90" stroke-linejoin="round">0 deg</tspan></text>
</g>
</g>
</svg></body></html>
